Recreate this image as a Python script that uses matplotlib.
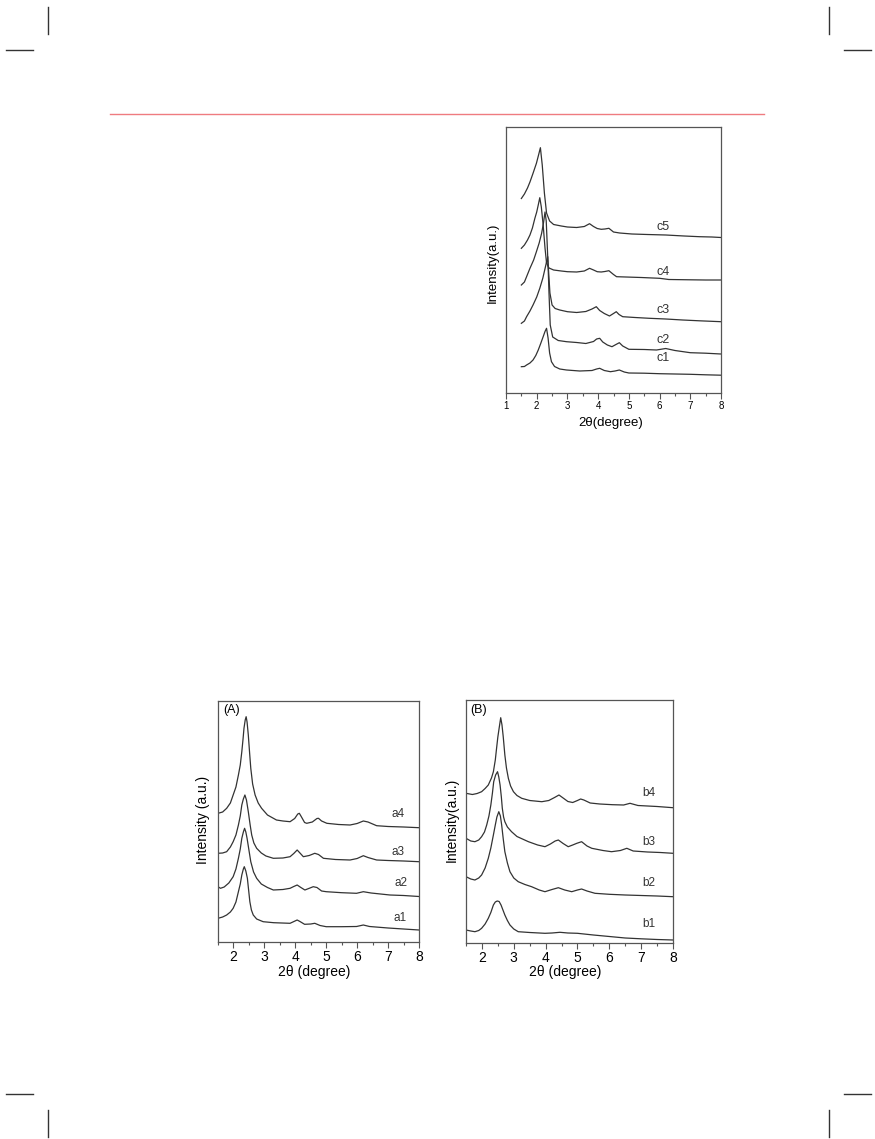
import matplotlib
matplotlib.use('Agg')
import matplotlib.pyplot as plt
from matplotlib.lines import Line2D
from matplotlib.ticker import MultipleLocator

plt.rcParams['font.family'] = ['Liberation Sans', 'DejaVu Sans']

# ---- panel (c): c1..c5 ----
c1_x = [1.5, 1.6, 1.67, 1.78, 1.88, 1.97, 2.05, 2.13, 2.21, 2.27, 2.32, 2.37, 2.42, 2.48, 2.58, 2.75, 2.97,
        3.4, 3.8, 3.95, 4.05, 4.2, 4.4, 4.55, 4.69, 4.85, 5.0, 5.5, 6.0, 6.5, 7.0, 7.5, 8.0]
c1_y = [26.3, 26.5, 28, 30, 33, 37.5, 43, 49.5, 56.3, 61.5, 64.7, 55, 40, 31.3, 26.5, 24, 23,
        22, 22.5, 24, 24.7, 22.5, 21.3, 22, 23, 21, 20, 19.8, 19.3, 19, 18.7, 18.2, 17.8]
c2_x = [1.5, 1.6, 1.67, 1.78, 1.88, 2.0, 2.1, 2.2, 2.26, 2.32, 2.36, 2.40, 2.44, 2.52, 2.7, 2.97, 3.3, 3.6,
        3.85, 3.95, 4.05, 4.15, 4.3, 4.45, 4.58, 4.69, 4.8, 5.0, 5.5, 5.9, 6.2, 6.5, 7.0, 7.5, 8.0]
c2_y = [69.7, 72, 76.3, 82, 88, 96, 104.7, 115, 123, 131, 136.3, 100, 68, 56, 52.5, 51.3, 50.5, 49.5,
        51.5, 54, 54.7, 51, 48, 46.3, 48.5, 50.3, 47, 43.7, 43.5, 43, 44.5, 42.5, 40.3, 39.8, 39]
c3_x = [1.5, 1.6, 1.67, 1.78, 1.9, 1.99, 2.08, 2.16, 2.22, 2.27, 2.31, 2.36, 2.43, 2.5, 2.6, 2.75, 3.0,
        3.3, 3.6, 3.8, 3.94, 4.05, 4.2, 4.37, 4.5, 4.59, 4.68, 4.8, 5.2, 5.67, 6.2, 6.75, 7.3, 8.0]
c3_y = [108, 111, 116.3, 124.7, 133, 141.3, 150, 159.7, 170, 181, 172, 135, 100, 88, 84.5, 83, 81.3,
        80.5, 81.5, 84, 86.3, 82.5, 79.5, 77, 79.5, 81.3, 78.5, 76.3, 75.5, 74.7, 74, 73, 72.2, 71.3]
c4_x = [1.5, 1.6, 1.7, 1.78, 1.86, 1.94, 2.0, 2.05, 2.1, 2.15, 2.21, 2.27, 2.32, 2.4, 2.55, 2.8, 3.0,
        3.3, 3.55, 3.72, 3.85, 3.97, 4.1, 4.22, 4.35, 4.5, 4.6, 4.9, 5.4, 6.0, 6.3, 7.0, 7.5, 8.0]
c4_y = [144.7, 148, 153, 158, 165, 174.7, 181, 188, 195.3, 186, 168, 145, 130, 125, 123, 122, 121.3,
        121, 122, 124.7, 123, 121.3, 121, 121.5, 122.3, 118.5, 116.3, 116, 115.5, 114.7, 113.5, 113.2, 113, 113]
c5_x = [1.5, 1.6, 1.7, 1.78, 1.88, 1.99, 2.06, 2.12, 2.18, 2.25, 2.32, 2.42, 2.55, 2.8, 3.0, 3.3,
        3.55, 3.72, 3.85, 3.97, 4.1, 4.22, 4.35, 4.5, 4.7, 5.1, 5.6, 6.2, 6.8, 7.3, 7.7, 8.0]
c5_y = [194.5, 199, 205, 211, 219.7, 229.7, 238, 245.3, 228, 200, 180, 172, 168.5, 167, 166, 165.5,
        166.5, 169.3, 166.5, 164.5, 163.7, 164, 164.7, 161, 160, 159, 158.5, 158, 157, 156.3, 156, 155.5]
c_names = ['c1', 'c2', 'c3', 'c4', 'c5']
c_label_x = [6.1, 6.1, 6.1, 6.1, 6.1]
c_label_y = [34.7, 53, 83, 121.3, 166.3]

# ---- panel (A): a1..a4 ----
a1_x = [1.5, 1.65, 1.78, 1.9, 1.99, 2.08, 2.16, 2.22, 2.27, 2.32, 2.35, 2.40, 2.45, 2.49, 2.53, 2.58, 2.64,
        2.75, 2.96, 3.3, 3.83, 4.06, 4.15, 4.3, 4.5, 4.63, 4.8, 5.0, 5.5, 5.98, 6.2, 6.4, 7.0, 7.5, 8.0]
a1_y = [23.7, 25, 27, 30, 33.7, 40, 50.3, 58, 67, 73, 75.3, 71, 63.7, 52, 40.3, 32, 27,
        23, 20.3, 19.3, 18.7, 22, 20.5, 17.7, 18, 18.7, 16.5, 15.3, 15.3, 15.5, 17, 15.5, 14, 13, 12]
a2_x = [1.5, 1.58, 1.7, 1.85, 1.99, 2.08, 2.16, 2.22, 2.27, 2.32, 2.36, 2.40, 2.44, 2.5, 2.56, 2.65, 2.75,
        2.9, 3.1, 3.29, 3.6, 3.83, 3.95, 4.06, 4.18, 4.31, 4.45, 4.58, 4.7, 4.85, 5.0, 5.5, 5.98, 6.2,
        6.45, 7.06, 7.5, 8.0]
a2_y = [55.3, 53.7, 55, 59, 65.3, 73, 83.7, 93, 103.7, 110, 113.7, 110, 103.7, 92, 80.3, 70, 63.7,
        58, 54.5, 52, 52.5, 53.7, 55.5, 57, 54.5, 52, 53.7, 55.3, 54.5, 51, 50.3, 49.3, 48.7, 50.3,
        49, 47, 46.5, 45.5]
a3_x = [1.5, 1.65, 1.78, 1.9, 1.99, 2.08, 2.16, 2.22, 2.27, 2.32, 2.37, 2.42, 2.48, 2.54, 2.59, 2.66, 2.75,
        2.9, 3.05, 3.29, 3.6, 3.83, 3.95, 4.06, 4.15, 4.26, 4.45, 4.63, 4.75, 4.91, 5.3, 5.77, 6.0, 6.2,
        6.35, 6.63, 7.0, 7.5, 8.0]
a3_y = [88.7, 89, 90.3, 95, 100.3, 107, 117, 126, 137, 143, 147, 142, 130.3, 117, 107, 99, 93.7,
        89, 86, 83.7, 84, 85.3, 88.5, 92, 89, 85.3, 86.5, 88.7, 87.5, 83.7, 82.5, 82, 83.5, 86.3,
        84.5, 82, 81.5, 81, 80.3]
a4_x = [1.5, 1.65, 1.78, 1.9, 1.99, 2.08, 2.16, 2.22, 2.27, 2.31, 2.34, 2.38, 2.41, 2.44, 2.48, 2.52, 2.56,
        2.62, 2.70, 2.8, 2.91, 3.1, 3.39, 3.6, 3.83, 3.98, 4.08, 4.13, 4.2, 4.3, 4.37, 4.55, 4.7, 4.75,
        4.85, 5.02, 5.4, 5.77, 6.0, 6.2, 6.35, 6.63, 7.0, 7.5, 8.0]
a4_y = [128.7, 130, 133.7, 139, 147, 155, 167, 177, 190.3, 203, 213.7, 222, 225.3, 220, 207, 190, 173.7,
        158, 147, 139, 133.7, 127, 122, 121, 120.3, 123.5, 128, 128.7, 125, 119.5, 118.7, 120, 123.5, 123.7,
        121, 118.7, 117.5, 117, 118.5, 121, 120, 116.3, 115.5, 115, 114.3]
a_names = ['a1', 'a2', 'a3', 'a4']
a_label_x = [7.39, 7.41, 7.33, 7.33]
a_label_y = [23.7, 58.7, 90.3, 127.7]

# ---- panel (B): b1..b4 ----
b1_x = [1.5, 1.65, 1.78, 1.9, 1.99, 2.1, 2.2, 2.28, 2.36, 2.42, 2.48, 2.54, 2.6, 2.66, 2.72, 2.8, 2.88,
        3.0, 3.14, 3.5, 3.98, 4.2, 4.45, 4.7, 5.0, 5.5, 6.0, 6.5, 7.0, 7.5, 8.0]
b1_y = [13, 12, 11.3, 12.5, 14.7, 19, 24.7, 30.5, 38, 41, 42, 41.5, 38, 33, 28, 22.5, 18,
        14, 11.3, 10.5, 9.7, 10, 10.7, 10, 9.7, 8, 6.5, 5, 4.2, 3.5, 3]
b2_x = [1.5, 1.65, 1.78, 1.9, 1.99, 2.1, 2.2, 2.28, 2.36, 2.42, 2.47, 2.53, 2.58, 2.62, 2.67, 2.72, 2.8,
        2.88, 3.0, 3.14, 3.35, 3.56, 3.8, 3.98, 4.2, 4.4, 4.6, 4.82, 5.0, 5.13, 5.3, 5.55, 6.0, 6.5,
        7.0, 7.5, 8.0]
b2_y = [66.3, 64, 63, 65, 68, 75, 84.7, 95, 108, 118, 126, 131.3, 127, 118, 104, 91.3, 80,
        71.3, 65, 61.3, 58.5, 56.3, 53, 51.3, 53.5, 55.3, 53, 51.3, 53, 54, 52, 49.7, 48.7, 48,
        47.5, 47, 46.3]
b3_x = [1.5, 1.65, 1.78, 1.9, 1.99, 2.08, 2.15, 2.22, 2.28, 2.33, 2.37, 2.43, 2.49, 2.53, 2.57, 2.61, 2.64,
        2.68, 2.72, 2.8, 2.93, 3.1, 3.46, 3.75, 3.98, 4.15, 4.3, 4.4, 4.55, 4.71, 4.85, 4.98, 5.13,
        5.3, 5.45, 5.8, 6.07, 6.35, 6.55, 6.75, 7.2, 7.6, 8.0]
b3_y = [104.7, 102, 101.3, 103, 106.3, 111, 118, 127, 138, 150, 161.3, 168, 171.3, 166, 158, 146, 134.7,
        126, 121.3, 116, 111.3, 106.5, 101.3, 98, 96.3, 99, 102, 103, 99.5, 96.3, 98, 99.7, 101.3,
        97, 94.7, 92.5, 91.3, 92.5, 94.7, 92, 91, 90.5, 89.7]
b4_x = [1.5, 1.7, 1.85, 1.99, 2.1, 2.2, 2.3, 2.36, 2.42, 2.46, 2.50, 2.54, 2.59, 2.63, 2.67, 2.72, 2.77,
        2.83, 2.9, 2.99, 3.1, 3.25, 3.5, 3.88, 4.1, 4.28, 4.42, 4.55, 4.7, 4.85, 5.0, 5.1, 5.2, 5.4,
        5.7, 6.1, 6.45, 6.65, 6.9, 7.5, 8.0]
b4_y = [149.7, 148.5, 149.5, 151.3, 154.5, 158, 165, 171.3, 183, 194.7, 206, 214.7, 225.3, 218, 206, 188, 175,
        164.7, 157, 151.3, 147.5, 144.7, 142.5, 141.3, 142.5, 145.5, 148, 145, 141.5, 140.5, 142.5, 144, 143, 140,
        139, 138.3, 138, 139.7, 137.5, 136.5, 135.3]
b_names = ['b1', 'b2', 'b3', 'b4']
b_label_x = [7.25, 7.25, 7.25, 7.25]
b_label_y = [18.7, 59.7, 101.3, 149.7]

LINE = '#333333'
FRAME = '#555555'


def style_axes(ax, xmin, xmax, ytop, tick_size):
    ax.set_xlim(xmin, xmax)
    ax.set_ylim(0, ytop)
    ax.xaxis.set_major_locator(MultipleLocator(1))
    ax.xaxis.set_minor_locator(MultipleLocator(0.5))
    ax.set_yticks([])
    ax.tick_params(axis='x', which='major', direction='out', length=4, width=0.8,
                   color=FRAME, labelsize=tick_size, pad=2)
    ax.tick_params(axis='x', which='minor', direction='out', length=2.5, width=0.8, color=FRAME)
    for s in ax.spines.values():
        s.set_color(FRAME)
        s.set_linewidth(0.9)


def draw_curves(ax, xs, ys, names, lx, ly, size):
    for x, y in zip(xs, ys):
        ax.plot(x, y, color=LINE, lw=0.9)
    for n, tx, ty in zip(names, lx, ly):
        ax.text(tx, ty, n, fontsize=size, ha='center', va='center', color='#333333')


fig = plt.figure(figsize=(8.75, 11.39), dpi=100)
W, H = 875.0, 1139.0


def px_axes(left, top, right, bottom):
    return fig.add_axes([left / W, 1 - bottom / H, (right - left) / W, (bottom - top) / H])


# page decorations (crop marks and header rule)
def page_line(x0, y0, x1, y1, color='#333333', lw=1.0):
    fig.add_artist(Line2D([x0 / W, x1 / W], [1 - y0 / H, 1 - y1 / H], color=color, lw=lw,
                          transform=fig.transFigure))


for cx in (48, 829):
    page_line(cx, 7, cx, 34)
    page_line(cx, 1110, cx, 1137)
for hx0, hx1 in ((6, 33), (844, 871)):
    page_line(hx0, 50, hx1, 50)
    page_line(hx0, 1094, hx1, 1094)
page_line(110, 113.7, 764, 113.7, color='#ef7b80', lw=1.0)

# panel c
axc = px_axes(506, 127, 721, 393)
style_axes(axc, 1, 8, 266, 7)
draw_curves(axc, [c1_x, c2_x, c3_x, c4_x, c5_x], [c1_y, c2_y, c3_y, c4_y, c5_y],
            c_names, c_label_x, c_label_y, 9)
axc.text(0.486, -0.113, '2θ(degree)', transform=axc.transAxes, ha='center', va='center', fontsize=9.5)
axc.text(-0.06, 0.49, 'Intensity(a.u.)', transform=axc.transAxes, ha='center', va='center',
         rotation=90, fontsize=9.5)

# panel A
axa = px_axes(218, 701, 419, 942)
style_axes(axa, 1.5, 8, 241, 10)
draw_curves(axa, [a1_x, a2_x, a3_x, a4_x], [a1_y, a2_y, a3_y, a4_y],
            a_names, a_label_x, a_label_y, 8.5)
axa.text(0.068, 0.963, '(A)', transform=axa.transAxes, ha='center', va='center', fontsize=9)
axa.text(0.478, -0.125, '2θ (degree)', transform=axa.transAxes, ha='center', va='center', fontsize=10)
axa.text(-0.077, 0.506, 'Intensity (a.u.)', transform=axa.transAxes, ha='center', va='center',
         rotation=90, fontsize=10)

# panel B
axb = px_axes(466, 700, 673, 943)
style_axes(axb, 1.5, 8, 243, 10)
draw_curves(axb, [b1_x, b2_x, b3_x, b4_x], [b1_y, b2_y, b3_y, b4_y],
            b_names, b_label_x, b_label_y, 8.5)
axb.text(0.06, 0.959, '(B)', transform=axb.transAxes, ha='center', va='center', fontsize=9)
axb.text(0.478, -0.119, '2θ (degree)', transform=axb.transAxes, ha='center', va='center', fontsize=10)
axb.text(-0.068, 0.506, 'Intensity(a.u.)', transform=axb.transAxes, ha='center', va='center',
         rotation=90, fontsize=10)

fig.savefig('out.png', dpi=100)
